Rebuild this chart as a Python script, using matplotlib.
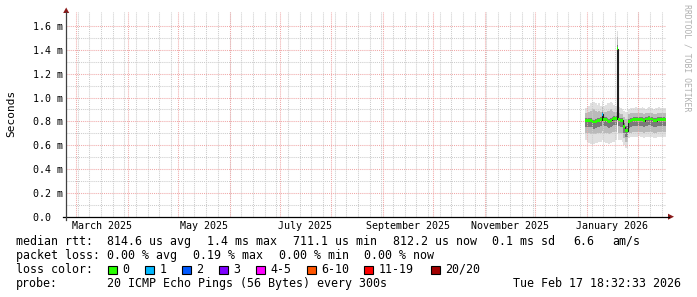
import matplotlib
matplotlib.use('Agg')
import matplotlib.pyplot as plt
import matplotlib.dates as mdates
from matplotlib.transforms import IdentityTransform
from matplotlib.lines import Line2D
from matplotlib.patches import Polygon, Rectangle
import numpy as np
import pandas as pd

W, H = 697, 297
plt.rcParams['font.family'] = ['DejaVu Sans Mono']

# ---------------- data ----------------
first_day = '2025-12-31'
now_str = '2026-02-17 18:32:33'
span_days = 360

# daily median RTT in ms (Dec 31 .. Feb 17)
median_ms = [0.810, 0.810, 0.805, 0.805, 0.800, 0.795, 0.800, 0.805, 0.810, 0.815,
             0.860, 0.815, 0.815, 0.810, 0.800, 0.810, 0.820, 0.822, 0.822,
             1.410,
             0.812, 0.810, 0.808, 0.755, 0.722, 0.722,
             0.800, 0.810, 0.812, 0.817, 0.817, 0.817, 0.818, 0.817, 0.817, 0.805,
             0.820, 0.820, 0.822, 0.820, 0.820, 0.805, 0.806, 0.817, 0.817, 0.818,
             0.817, 0.817, 0.812]
# lost pings (of 20) per day
loss_pings = [0, 0, 0, 0, 0, 0, 0, 0, 0, 0,
              1, 0, 0, 0, 0, 0, 0, 0, 0,
              0,
              0, 0, 0, 0, 0, 0,
              0, 0, 0, 0, 0, 0, 0, 0, 0, 0,
              0, 0, 0, 0, 0, 0, 0, 0, 0, 0,
              0, 0, 0]
# smoke (ping distribution) in ms
s_max = [0.91, 0.92, 0.93, 0.95, 0.96, 0.96, 0.95, 0.94, 0.95, 0.93,
         0.97, 0.93, 0.94, 0.95, 0.95, 0.96, 0.95, 0.94, 0.93,
         1.56,
         0.92, 0.91, 0.90, 0.89, 0.88, 0.88,
         0.90, 0.91, 0.91, 0.91, 0.92, 0.91, 0.91, 0.91, 0.92, 0.91,
         0.90, 0.91, 0.92, 0.91, 0.91, 0.90, 0.91, 0.91, 0.92, 0.91,
         0.91, 0.91, 0.91]
s_p90 = [0.87, 0.87, 0.88, 0.89, 0.90, 0.90, 0.89, 0.88, 0.89, 0.88,
         0.92, 0.88, 0.88, 0.89, 0.89, 0.90, 0.89, 0.88, 0.88,
         1.51,
         0.87, 0.86, 0.86, 0.84, 0.82, 0.82,
         0.86, 0.87, 0.87, 0.87, 0.87, 0.87, 0.87, 0.87, 0.87, 0.86,
         0.87, 0.87, 0.87, 0.87, 0.87, 0.86, 0.86, 0.87, 0.87, 0.87,
         0.87, 0.87, 0.87]
s_p70 = [0.83, 0.83, 0.825, 0.825, 0.82, 0.815, 0.82, 0.825, 0.83, 0.835,
         0.88, 0.835, 0.835, 0.83, 0.82, 0.83, 0.84, 0.842, 0.842,
         1.44,
         0.832, 0.83, 0.828, 0.79, 0.76, 0.76,
         0.82, 0.83, 0.832, 0.837, 0.837, 0.837, 0.838, 0.837, 0.837, 0.825,
         0.84, 0.84, 0.842, 0.84, 0.84, 0.825, 0.826, 0.837, 0.837, 0.838,
         0.837, 0.837, 0.832]
s_p30 = [0.755, 0.755, 0.75, 0.75, 0.745, 0.74, 0.745, 0.75, 0.755, 0.76,
         0.80, 0.76, 0.76, 0.755, 0.745, 0.755, 0.765, 0.767, 0.767,
         1.20,
         0.757, 0.755, 0.75, 0.70, 0.67, 0.67,
         0.745, 0.755, 0.757, 0.762, 0.762, 0.762, 0.763, 0.762, 0.762, 0.75,
         0.765, 0.765, 0.767, 0.765, 0.765, 0.75, 0.751, 0.762, 0.762, 0.763,
         0.762, 0.762, 0.757]
s_p10 = [0.70, 0.70, 0.70, 0.69, 0.69, 0.69, 0.69, 0.70, 0.70, 0.70,
         0.72, 0.70, 0.70, 0.70, 0.69, 0.70, 0.71, 0.71, 0.71,
         0.90,
         0.70, 0.70, 0.70, 0.66, 0.63, 0.63,
         0.70, 0.70, 0.71, 0.71, 0.71, 0.71, 0.71, 0.71, 0.71, 0.70,
         0.71, 0.71, 0.71, 0.71, 0.71, 0.70, 0.70, 0.71, 0.71, 0.71,
         0.71, 0.71, 0.71]
s_min = [0.64, 0.63, 0.62, 0.61, 0.60, 0.61, 0.62, 0.62, 0.63, 0.63,
         0.64, 0.63, 0.62, 0.62, 0.61, 0.62, 0.63, 0.63, 0.64,
         0.80,
         0.64, 0.64, 0.63, 0.60, 0.58, 0.58,
         0.66, 0.67, 0.67, 0.67, 0.67, 0.67, 0.68, 0.67, 0.67, 0.66,
         0.67, 0.67, 0.67, 0.67, 0.67, 0.66, 0.66, 0.67, 0.67, 0.67,
         0.67, 0.67, 0.67]

loss_labels = ['0', '1', '2', '3', '4-5', '6-10', '11-19', '20/20']
loss_colors = ['#26ff00', '#00b8ff', '#0059ff', '#7e00ff', '#ff00ff', '#ff5500', '#ff0000', '#a10000']
loss_upper = [0, 1, 2, 3, 5, 10, 19, 20]

y_ticks = [0.0, 0.2, 0.4, 0.6, 0.8, 1.0, 1.2, 1.4, 1.6]
y_tick_labels = ['0.0  ', '0.2 m', '0.4 m', '0.6 m', '0.8 m', '1.0 m', '1.2 m', '1.4 m', '1.6 m']
y_minor = [0.1, 0.3, 0.5, 0.7, 0.9, 1.1, 1.3, 1.5]
y_top = 1.715

legend_line1 = [('median rtt:', 16), ('814.6 us avg', 107), ('1.4 ms max', 207),
                ('711.1 us min', 293), ('812.2 us now', 393), ('0.1 ms sd', 492),
                ('6.6', 573), ('am/s', 612)]
legend_line2 = [('packet loss:', 16), ('0.00 % avg', 107), ('0.19 % max', 193),
                ('0.00 % min', 279), ('0.00 % now', 364)]
legend_box_x = [108, 145, 182, 219, 256, 307, 364, 431]
probe_text = '20 ICMP Echo Pings (56 Bytes) every 300s'
stamp_text = 'Tue Feb 17 18:32:33 2026'

n = len(median_ms)
for arr in (loss_pings, s_max, s_p90, s_p70, s_p30, s_p10, s_min):
    assert len(arr) == n

# ---------------- figure ----------------
fig = plt.figure(figsize=(W / 100, H / 100), dpi=100)
fig.patch.set_facecolor('white')
ax_l, ax_r, ax_t, ax_b = 65.6, 666.3, 12.3, 216.7
ax = fig.add_axes([ax_l / W, 1 - ax_b / H, (ax_r - ax_l) / W, (ax_b - ax_t) / H])
ax.set_facecolor('white')
for s in ax.spines.values():
    s.set_visible(False)

t1 = pd.Timestamp(now_str)
t0 = t1 - pd.Timedelta(days=span_days)
ax.set_xlim(mdates.date2num(t0), mdates.date2num(t1))
ax.set_ylim(0, y_top)

days = pd.date_range(first_day, periods=n, freq='D')
x = mdates.date2num(list(days) + [t1])


def ext(a):
    a = np.asarray(a, dtype=float)
    return np.append(a, a[-1])


# grid
grid_kw = dict(lw=0.75, linestyle=(0, (1, 1)), zorder=3)
for d in pd.date_range(t0.normalize(), t1, freq='W-SUN'):
    if d >= t0:
        ax.axvline(mdates.date2num(d), color='#cccccc', **grid_kw)
for v in y_minor:
    ax.axhline(v, color='#cccccc', **grid_kw)
months = pd.date_range(t0.normalize(), t1, freq='MS')
for d in months:
    ax.axvline(mdates.date2num(d), color='#f0a8a8', **grid_kw)
for v in y_ticks[1:]:
    ax.axhline(v, color='#f0a8a8', **grid_kw)

# smoke
ax.fill_between(x, ext(s_min), ext(s_max), step='post', color='#e0e0e0', lw=0, zorder=2)
ax.fill_between(x, ext(s_p10), ext(s_p90), step='post', color='#bababa', lw=0, zorder=2)
ax.fill_between(x, ext(s_p30), ext(s_p70), step='post', color='#7a7a7a', lw=0, zorder=2)

# median line
ax.step(x, ext(median_ms), where='post', color='#202020', lw=0.8, zorder=4)

# loss coloured band
med = np.asarray(median_ms)
lp = np.asarray(loss_pings)
lvl = np.searchsorted(loss_upper, lp)
w = 0.012
for i, c in enumerate(loss_colors):
    m = lvl == i
    if not m.any():
        continue
    me = np.append(m, False)
    me[1:] = me[1:] | m
    ax.fill_between(x, ext(med - w), ext(med + w), where=me, step='post',
                    color=c, lw=0, zorder=5)

# ticks
ax.set_yticks(y_ticks)
ax.set_yticklabels(y_tick_labels)
lab_months = [m for m in months if m.month % 2 == 1]
lab_pos = [mdates.date2num(m + (m + pd.offsets.MonthBegin(1) - m) / 2) for m in lab_months]
ax.set_xticks(lab_pos)
ax.set_xticklabels([m.strftime('%B %Y') for m in lab_months])
ax.tick_params(axis='both', length=0, labelsize=7.2, colors='#000000')
ax.tick_params(axis='y', pad=2.2)
ax.tick_params(axis='x', pad=3.0)

# axes lines & arrows (pixel coords)
T = IdentityTransform()


def P(px, py):
    return px, H - py


xa = [P(63, 216.7), P(669, 216.7)]
fig.add_artist(Line2D([xa[0][0], xa[1][0]], [xa[0][1], xa[1][1]], color='#000000', lw=0.9, transform=T))
ya = [P(66.2, 219.5), P(66.2, 12)]
fig.add_artist(Line2D([ya[0][0], ya[1][0]], [ya[0][1], ya[1][1]], color='#404040', lw=0.9, transform=T))
arrow_col = '#8b1a1a'
fig.add_artist(Polygon([P(668, 213.7), P(674, 216.7), P(668, 219.7)], closed=True,
                       color=arrow_col, lw=0, transform=T))
fig.add_artist(Polygon([P(63.2, 13), P(66.2, 7.5), P(69.2, 13)], closed=True,
                       color=arrow_col, lw=0, transform=T))

# y label
fig.text(10.8 / W, 1 - 113.5 / H, 'Seconds', rotation=90, ha='center', va='center', fontsize=8)

# watermark
fig.text(687 / W, 1 - 4 / H, 'RRDTOOL / TOBI OETIKER', rotation=270, ha='center', va='top',
         fontsize=5.9, color='#b0b0b0')

# legend
fs = 8.4
rows_y = [241.5, 255.5, 269.5, 283.5]
for txt, px in legend_line1:
    fig.text(px / W, 1 - rows_y[0] / H, txt, ha='left', va='center', fontsize=fs)
for txt, px in legend_line2:
    fig.text(px / W, 1 - rows_y[1] / H, txt, ha='left', va='center', fontsize=fs)
fig.text(16 / W, 1 - rows_y[2] / H, 'loss color:', ha='left', va='center', fontsize=fs)
for lab, col, bx in zip(loss_labels, loss_colors, legend_box_x):
    bxp, byp = P(bx, rows_y[2] + 4.5)
    fig.add_artist(Rectangle((bxp, byp), 8.5, 8.5, facecolor=col, edgecolor='#000000', lw=0.8, transform=T))
    fig.text((bx + 14.5) / W, 1 - rows_y[2] / H, lab, ha='left', va='center', fontsize=fs)
fig.text(16 / W, 1 - rows_y[3] / H, 'probe:', ha='left', va='center', fontsize=fs)
fig.text(107 / W, 1 - rows_y[3] / H, probe_text, ha='left', va='center', fontsize=fs)
fig.text(513 / W, 1 - rows_y[3] / H, stamp_text, ha='left', va='center', fontsize=fs)

fig.savefig('out.png', dpi=100, facecolor='white')
